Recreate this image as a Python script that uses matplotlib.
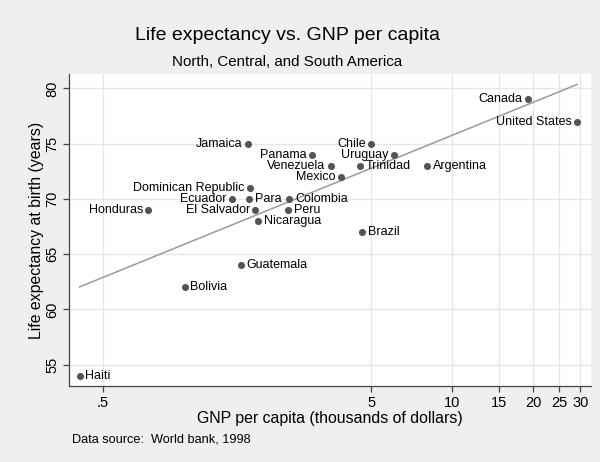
import numpy as np
import matplotlib
matplotlib.use("Agg")
import matplotlib.pyplot as plt
from matplotlib.ticker import FixedLocator, FixedFormatter, NullLocator

plt.rcParams['font.family'] = ['Liberation Sans', 'DejaVu Sans']

countries = ["Haiti", "Honduras", "Bolivia", "Guatemala", "Jamaica", "Dominican Republic",
             "Ecuador", "Para", "El Salvador", "Nicaragua", "Colombia", "Peru", "Panama",
             "Venezuela", "Mexico", "Chile", "Trinidad", "Uruguay", "Brazil", "Argentina",
             "Canada", "United States"]
gnp = [0.41, 0.74, 1.01, 1.64, 1.74, 1.77, 1.52, 1.76, 1.85, 1.90, 2.48, 2.45, 3.00,
       3.54, 3.85, 4.99, 4.54, 6.09, 4.63, 8.08, 19.2, 29.2]
lexp = [54, 69, 62, 64, 75, 71, 70, 70, 69, 68, 70, 69, 74, 73, 72, 75, 73, 74, 67, 73, 79, 77]
label_side = ["r", "l", "r", "r", "l", "l", "l", "r", "l", "r", "r", "r", "l",
              "l", "l", "l", "r", "l", "r", "r", "l", "l"]

xticks = [0.5, 5, 10, 15, 20, 25, 30]
xticklabels = [".5", "5", "10", "15", "20", "25", "30"]
yticks = [55, 60, 65, 70, 75, 80]

fig = plt.figure(figsize=(6, 4.62), dpi=100)
fig.patch.set_facecolor('#efefef')
ax = fig.add_axes([69.3/600, 1-386/462, (590.7-69.3)/600, (386-74)/462])
ax.set_facecolor('white')

# fitted line of life expectancy on log GNP
lg = np.log(np.array(gnp))
b, a = np.polyfit(lg, np.array(lexp), 1)
xs = np.array([min(gnp), max(gnp)])
ax.plot(xs, a + b*np.log(xs), color='#9a9a9a', linewidth=1.1, zorder=2)

ax.scatter(gnp, lexp, s=26, color='#555555', zorder=3, linewidths=0)
for c, x, y, side in zip(countries, gnp, lexp, label_side):
    if side == 'l':
        ax.annotate(c, (x, y), xytext=(-4, 0), textcoords='offset points',
                    ha='right', va='center', fontsize=9)
    else:
        ax.annotate(c, (x, y), xytext=(4, 0), textcoords='offset points',
                    ha='left', va='center', fontsize=9)

ax.set_xscale('log')
ax.set_xlim(0.3755, 32.8)
ax.set_ylim(53.06, 81.3)

ax.xaxis.set_major_locator(FixedLocator(xticks))
ax.xaxis.set_major_formatter(FixedFormatter(xticklabels))
ax.xaxis.set_minor_locator(NullLocator())
ax.yaxis.set_major_locator(FixedLocator(yticks))
ax.yaxis.set_major_formatter(FixedFormatter([str(v) for v in yticks]))

ax.grid(True, color='#e6e6e6', linewidth=1.0)
ax.set_axisbelow(True)
for s in ['top', 'right']:
    ax.spines[s].set_visible(False)
for s in ['left', 'bottom']:
    ax.spines[s].set_color('#444444')
    ax.spines[s].set_linewidth(0.9)
ax.tick_params(axis='both', direction='out', length=4, width=0.9, color='#444444',
               labelsize=10.5, labelcolor='black', pad=3)
ax.tick_params(axis='y', labelrotation=90)
for lab in ax.get_yticklabels():
    lab.set_va('center')

ax.set_xlabel("GNP per capita (thousands of dollars)", fontsize=11.4, labelpad=1)
ax.set_ylabel("Life expectancy at birth (years)", fontsize=11.4, labelpad=1)

fig.text(287.5/600, 1-36/462, "Life expectancy vs. GNP per capita", ha='center', va='center', fontsize=14)
fig.text(287.5/600, 1-62/462, "North, Central, and South America", ha='center', va='center', fontsize=10.9)
fig.text(72/600, 1-440/462, "Data source:  World bank, 1998", ha='left', va='center', fontsize=9.2)

fig.savefig("out.png", dpi=100, facecolor=fig.get_facecolor())
